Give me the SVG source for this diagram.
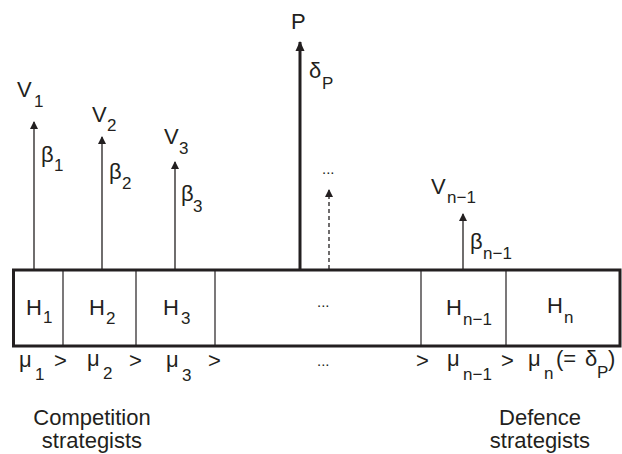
<svg xmlns="http://www.w3.org/2000/svg" width="622" height="454" viewBox="0 0 622 454">
<style>
text{font-family:"Liberation Sans",Arial,sans-serif;fill:#231f20;font-size:22px}
.s{font-size:17px}
.d{font-size:15px}
.ln{stroke:#231f20;fill:none}
</style>
<defs>
<marker id="ah" viewBox="0 0 8 10" refX="7" refY="5" markerWidth="8" markerHeight="10" markerUnits="userSpaceOnUse" orient="auto">
<path d="M0,1 L8,5 L0,9 Z" fill="#231f20"/>
</marker>
<marker id="ahb" viewBox="0 0 10 10" refX="9" refY="5" markerWidth="10" markerHeight="10" markerUnits="userSpaceOnUse" orient="auto">
<path d="M0,0.5 L10,5 L0,9.5 Z" fill="#231f20"/>
</marker>
</defs>
<g id="connectors">
<line class="ln" x1="34" y1="269" x2="34" y2="122" stroke-width="1.3" marker-end="url(#ah)"/>
<line class="ln" x1="102" y1="269" x2="102" y2="137" stroke-width="1.3" marker-end="url(#ah)"/>
<line class="ln" x1="175" y1="269" x2="175" y2="162" stroke-width="1.3" marker-end="url(#ah)"/>
<line class="ln" x1="300" y1="269" x2="300" y2="42" stroke-width="3" marker-end="url(#ahb)"/>
<line class="ln" x1="329" y1="269" x2="329" y2="190" stroke-width="1.3" stroke-dasharray="4,3" marker-end="url(#ah)"/>
<line class="ln" x1="463" y1="269" x2="463" y2="214" stroke-width="1.3" marker-end="url(#ah)"/>
</g>
<g id="box">
<rect class="ln" x="13.5" y="270" width="606.5" height="76" stroke-width="3"/>
<line class="ln" x1="63" y1="270" x2="63" y2="346" stroke-width="1.2"/>
<line class="ln" x1="136" y1="270" x2="136" y2="346" stroke-width="1.2"/>
<line class="ln" x1="215" y1="270" x2="215" y2="346" stroke-width="1.2"/>
<line class="ln" x1="421" y1="270" x2="421" y2="346" stroke-width="1.2"/>
<line class="ln" x1="506" y1="270" x2="506" y2="346" stroke-width="1.2"/>
</g>
<g id="V1"><text x="17" y="97">V</text><text class="s" x="34" y="107">1</text>
<text x="41" y="162">β</text><text class="s" x="54" y="171">1</text></g>
<g id="V2"><text x="92" y="122">V</text><text class="s" x="107" y="131">2</text>
<text x="109" y="179">β</text><text class="s" x="122" y="189">2</text></g>
<g id="V3"><text x="164" y="144">V</text><text class="s" x="179" y="154">3</text>
<text x="181" y="201">β</text><text class="s" x="193" y="212">3</text></g>
<g id="P"><text x="291" y="29">P</text>
<text x="309" y="78">δ</text><text class="s" x="322" y="89">P</text></g>
<g id="dots"><text x="322" y="174" class="d">...</text></g>
<g id="Vn1"><text x="431" y="194">V</text><text class="s" x="447" y="203">n−1</text>
<text x="470" y="249">β</text><text class="s" x="483" y="259">n−1</text></g>
<g id="H1"><text x="26" y="315">H</text><text class="s" x="43" y="323">1</text></g>
<g id="H2"><text x="89" y="315">H</text><text class="s" x="106" y="324">2</text></g>
<g id="H3"><text x="163" y="315">H</text><text class="s" x="181" y="324">3</text></g>
<g id="Hdots"><text x="317" y="307" class="d">...</text></g>
<g id="Hn1"><text x="446" y="315">H</text><text class="s" x="463" y="325">n−1</text></g>
<g id="Hn"><text x="547" y="313">H</text><text class="s" x="564" y="323">n</text></g>
<g id="mu">
<text x="19" y="367">μ</text><text class="s" x="35" y="380">1</text><text x="54" y="368">&gt;</text>
<text x="87" y="366">μ</text><text class="s" x="103" y="379">2</text><text x="129" y="368">&gt;</text>
<text x="166" y="367">μ</text><text class="s" x="182" y="381">3</text><text x="208" y="368">&gt;</text>
<text x="317" y="366" class="d">...</text>
<text x="416" y="368">&gt;</text>
<text x="447" y="366">μ</text><text class="s" x="463" y="380">n−1</text><text x="501" y="368">&gt;</text>
<text x="528" y="366">μ</text><text class="s" x="544" y="379">n</text><text x="556" y="366">(=</text><text x="585" y="366">δ</text><text class="s" x="597" y="378">P</text><text x="608" y="366">)</text>
</g>
<g id="comp"><text x="92" y="425" text-anchor="middle">Competition</text><text x="92" y="448" text-anchor="middle">strategists</text></g>
<g id="def"><text x="540" y="425" text-anchor="middle">Defence</text><text x="540" y="448" text-anchor="middle">strategists</text></g>
</svg>
